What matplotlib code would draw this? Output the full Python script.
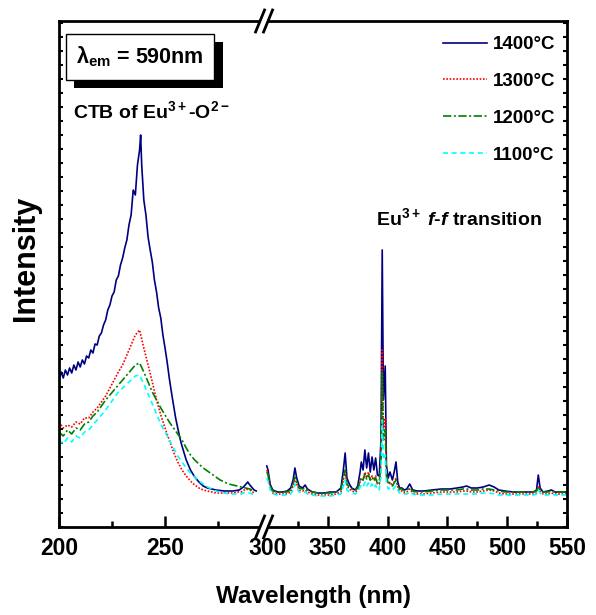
import numpy as np
import matplotlib
matplotlib.use("Agg")
import matplotlib.pyplot as plt
from matplotlib.ticker import MultipleLocator, FixedLocator
from matplotlib import patheffects
from matplotlib.patches import Polygon

plt.rcParams['font.family'] = ['Liberation Sans', 'DejaVu Sans']
plt.rcParams['font.weight'] = 'bold'
plt.rcParams['mathtext.fontset'] = 'custom'
plt.rcParams['mathtext.rm'] = 'Liberation Sans:bold'
plt.rcParams['mathtext.bf'] = 'Liberation Sans:bold'
plt.rcParams['mathtext.it'] = 'Liberation Sans:bold:italic'
plt.rcParams['mathtext.default'] = 'rm'

# ---- data (excitation spectra, lambda_em = 590 nm) ----
# CTB region, 1400 C sample measured finer
wl_left_1400 = [200, 201, 202, 203, 204, 205, 206, 207, 208, 209, 210, 211, 212, 213, 214,
                215, 216, 217, 218, 219, 220, 221, 222, 223, 224, 225, 226, 227, 228, 229,
                230, 231, 232, 233, 234, 235, 236, 237, 238, 238.5, 239, 240, 241, 242, 243,
                244, 245, 246, 247, 248, 249, 250, 251, 252, 253, 254, 255, 256, 257, 258,
                259, 260, 262, 264, 266, 268, 270, 274, 278, 282, 285, 287, 289, 290, 292, 293]
i_left_1400 = [147, 155, 149, 157, 152, 159, 154, 162, 157, 165, 160, 167, 163, 171, 169,
               177, 174, 183, 182, 191, 194, 202, 207, 217, 222, 231, 235, 247, 251, 262,
               269, 279, 287, 302, 312, 337, 332, 362, 377, 392, 362, 327, 312, 290, 277,
               265, 247, 235, 219, 209, 192, 179, 165, 149, 135, 122, 109, 99, 89, 81,
               74, 67, 57, 50, 45, 41, 39, 37, 36, 36, 37, 40, 45, 42, 37, 36]

wl_left = np.arange(200, 293, 2)
i_left_1300 = [105, 99, 102, 100, 105, 103, 109, 109, 115, 119, 125, 131, 139, 147, 155, 162,
               172, 182, 192, 197, 179, 162, 145, 127, 112, 99, 87, 75, 65, 57, 51, 46,
               42, 39, 37, 36, 35, 34, 34, 34, 34, 34, 35, 35, 38, 37, 34]
i_left_1200 = [95, 91, 97, 93, 99, 97, 103, 105, 111, 115, 121, 127, 132, 137, 142, 147,
               152, 157, 162, 164, 155, 145, 135, 127, 119, 112, 105, 99, 93, 87, 79, 72,
               67, 63, 59, 56, 53, 50, 47, 45, 43, 42, 41, 40, 39, 38, 36]
i_left_1100 = [87, 83, 89, 85, 91, 89, 95, 97, 102, 107, 112, 117, 123, 129, 135, 139,
               143, 147, 151, 152, 143, 133, 123, 113, 103, 95, 87, 79, 71, 65, 59, 54,
               50, 46, 43, 40, 38, 36, 35, 34, 33, 33, 33, 33, 35, 34, 32]

# f-f transition region
wl_right = [299, 300, 301, 302, 304, 308, 312, 316, 319, 321, 322.5, 324, 326, 329, 331,
            333, 337, 342, 347, 352, 357, 361, 363, 364.5, 366, 368, 370, 373, 375, 377,
            378, 379.5, 381, 382.5, 384, 385.5, 387, 388.5, 390, 391.5, 393, 394.5, 395.5,
            396.5, 398, 399, 400.5, 402, 404, 405.5, 407, 408.5, 410, 412, 414, 416, 418.5,
            421, 425, 430, 437, 445, 452, 458, 463, 466, 470, 475, 480, 485, 489, 493, 498,
            505, 512, 518, 522, 524.5, 526, 527.5, 530, 534, 537, 540, 545, 550]
i_right_1400 = [61, 57, 49, 42, 37, 35, 35, 36, 39, 47, 59, 49, 41, 39, 42,
                38, 35, 34, 34, 35, 35, 39, 57, 74, 49, 43, 39, 37, 41, 55,
                65, 57, 77, 59, 74, 55, 70, 57, 69, 52, 51, 87, 277,
                127, 161, 62, 49, 55, 47, 55, 65, 45, 39, 39, 37, 38, 43,
                37, 36, 36, 37, 38, 38, 39, 40, 41, 39, 39, 40, 42, 40, 37, 36,
                35, 35, 35, 35, 37, 52, 39, 35, 36, 37, 35, 35, 35]
i_right_1300 = [57, 53, 46, 39, 34, 33, 33, 33, 35, 41, 49, 43, 37, 36, 37,
                35, 33, 32, 32, 32, 33, 35, 47, 57, 41, 38, 36, 35, 37, 45,
                49, 47, 55, 49, 55, 47, 51, 47, 51, 43, 43, 67, 177,
                97, 109, 53, 43, 45, 41, 45, 49, 40, 36, 36, 34, 35, 38,
                34, 33, 33, 34, 35, 35, 35, 36, 36, 35, 35, 36, 37, 36, 34, 33,
                33, 33, 33, 33, 34, 41, 36, 33, 33, 34, 33, 33, 33]
i_right_1200 = [55, 52, 45, 40, 36, 35, 35, 35, 37, 43, 50, 45, 39, 38, 39,
                37, 35, 34, 34, 34, 35, 37, 49, 57, 43, 40, 38, 37, 39, 46,
                49, 47, 53, 48, 52, 47, 50, 46, 49, 43, 43, 65, 155,
                87, 97, 51, 43, 44, 41, 44, 47, 41, 38, 38, 36, 37, 39,
                36, 35, 35, 36, 37, 37, 37, 38, 38, 37, 37, 38, 38, 37, 36, 35,
                35, 35, 35, 35, 36, 40, 37, 35, 35, 36, 35, 35, 35]
i_right_1100 = [49, 46, 41, 37, 33, 32, 32, 32, 33, 37, 43, 39, 35, 34, 35,
                33, 32, 31, 31, 31, 32, 33, 41, 47, 37, 35, 34, 33, 35, 40,
                42, 40, 45, 41, 44, 40, 43, 39, 42, 37, 37, 52, 107,
                67, 72, 45, 38, 39, 37, 39, 41, 37, 34, 34, 33, 33, 35,
                33, 32, 32, 32, 33, 33, 33, 33, 33, 33, 33, 34, 34, 33, 32, 32,
                32, 32, 32, 32, 33, 37, 34, 32, 32, 33, 32, 32, 32]

labels = ['1400\u00b0C', '1300\u00b0C', '1200\u00b0C', '1100\u00b0C']
colors = ['#000080', '#ff0000', '#008000', '#00ffff']
styles = ['-', (0, (1, 1)), (0, (5, 1.5, 1.2, 1.5)), (0, (3, 2.2))]

xticks = [200, 250, 300, 350, 400, 450, 500, 550]
xminor = [225, 275, 325, 375, 425, 475, 525]

# ---- broken wavelength axis: compressed above the break ----
B = 296.7
r = 0.564


def fwd(x):
    x = np.asarray(x, dtype=float)
    return np.where(x <= B, x, B + (x - B) * r)


def inv(u):
    u = np.asarray(u, dtype=float)
    return np.where(u <= B, u, B + (u - B) / r)


fig = plt.figure(figsize=(5.96, 6.15), dpi=100)
W, H = 596, 615
ax = fig.add_axes([59 / W, 1 - 527 / H, 508 / W, 506 / H])
ax.set_xscale('function', functions=(fwd, inv))

series = [
    (wl_left_1400, i_left_1400, i_right_1400),
    (wl_left, i_left_1300, i_right_1300),
    (wl_left, i_left_1200, i_right_1200),
    (wl_left, i_left_1100, i_right_1100),
]
for (wl_l, y_l, y_r), lab, c, ls in zip(series, labels, colors, styles):
    x = np.concatenate([wl_l, [np.nan], wl_right])
    y = np.concatenate([y_l, [np.nan], y_r])
    ax.plot(x, y, color=c, ls=ls, lw=1.2, label=lab)

ax.set_xlim(200, 550)
ax.set_ylim(0, 506)

ax.xaxis.set_major_locator(FixedLocator(xticks))
ax.xaxis.set_minor_locator(FixedLocator(xminor))
ax.set_xticklabels([str(t) for t in xticks])
ax.yaxis.set_major_locator(MultipleLocator(14))
ax.set_yticklabels([])
ax.tick_params(axis='x', which='major', direction='in', length=8, width=1.8,
               labelsize=16.5, pad=7)
ax.tick_params(axis='x', which='minor', direction='in', length=4.5, width=1.8)
ax.tick_params(axis='y', which='major', direction='in', length=3, width=1.5,
               left=True, right=True)
for sp in ax.spines.values():
    sp.set_linewidth(2.0)

# break marks on bottom and top spines
xb = (B - 200) / (fwd(550) - 200)
px, py = 1 / 508, 1 / 506
for y0 in (0, 1):
    gap = Polygon([(xb - 8.5 * px, y0 - 11 * py), (xb + 0.5 * px, y0 + 11 * py),
                   (xb + 8.5 * px, y0 + 11 * py), (xb - 0.5 * px, y0 - 11 * py)],
                  closed=True, transform=ax.transAxes, facecolor='white',
                  edgecolor='none', clip_on=False, zorder=5)
    ax.add_patch(gap)
    for dx in (-4, 4):
        ax.plot([xb + (dx - 4.5) * px, xb + (dx + 4.5) * px],
                [y0 - 11 * py, y0 + 11 * py], color='black', lw=2.0,
                transform=ax.transAxes, clip_on=False, zorder=6)

# annotations
t = ax.text(140 / 508 - 59 / 508, (527 - 57) / 506, '\u03bb$_{\\mathrm{em}}$ = 590nm',
            transform=ax.transAxes, ha='center', va='center', fontsize=15.5,
            fontweight='bold',
            bbox=dict(boxstyle='square,pad=0.5', facecolor='white', edgecolor='black',
                      lw=1.0))
t.get_bbox_patch().set_path_effects([
    patheffects.SimplePatchShadow(offset=(6, -6), shadow_rgbFace='black', alpha=1.0),
    patheffects.Normal()])

ax.text((73 - 59) / 508, (527 - 118) / 506, 'CTB of Eu$^{3+}$-O$^{2-}$',
        transform=ax.transAxes, ha='left', va='baseline', fontsize=14,
        fontweight='bold')
ax.text((376 - 59) / 508, (527 - 225) / 506, 'Eu$^{3+}$ $\\mathit{f}$-$\\mathit{f}$ transition',
        transform=ax.transAxes, ha='left', va='baseline', fontsize=14,
        fontweight='bold')

ax.legend(loc='upper left', bbox_to_anchor=(443 / W, 1 - 36 / H),
          bbox_transform=fig.transFigure, frameon=False, fontsize=13.5,
          handlelength=2.35, handletextpad=0.3, labelspacing=1.05,
          borderpad=0, borderaxespad=0)

fig.text(26 / W, 1 - 258 / H, 'Intensity', rotation=90, ha='center', va='center',
         fontsize=22, fontweight='bold')
fig.text(314 / W, 1 - 597 / H, 'Wavelength (nm)', ha='center', va='center',
         fontsize=17.5, fontweight='bold')

fig.savefig('out.png', dpi=100)
